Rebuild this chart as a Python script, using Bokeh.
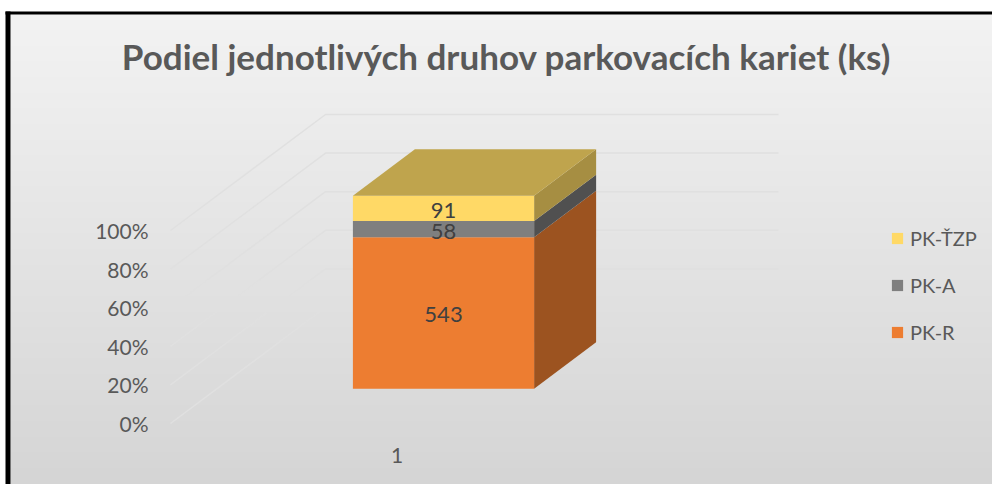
import numpy as np
from bokeh.plotting import figure
from bokeh.models import LinearAxis, FixedTicker, Legend, LegendItem, Label, Range1d
from bokeh.core.properties import value
from bokeh.embed import file_html
from bokeh.resources import INLINE

# ---------------- data ----------------
categories = [1]
category_labels = ["1"]
series_names = ["PK-R", "PK-A", "PK-ŤZP"]
pk_r = [543]
pk_a = [58]
pk_tzp = [91]
y_ticks = [0, 20, 40, 60, 80, 100]
y_tick_labels = ["0%", "20%", "40%", "60%", "80%", "100%"]
title_text = "Podiel jednotlivých druhov parkovacích kariet (ks)"

# ---------------- layout / style ----------------
W, H = 992, 484
X0_PX = 170.0      # screen x of the front-left floor corner
X_SCALE = 453.0    # px per category unit
Y0_PX = 423.0      # screen y (from top) of 0 % at the front
Y_SCALE = 1.93     # px per percent
DEPTH_DX_PX = 155.0
DEPTH_DY_PX = 116.0
BAR_HALF = 0.2
Z0, Z1 = 0.3, 0.7

x_start = 0.5 - X0_PX / X_SCALE
x_end = x_start + W / X_SCALE
y_start = -(H - Y0_PX) / Y_SCALE
y_end = y_start + H / Y_SCALE


def sx(px):
    return x_start + px / X_SCALE


def sy(py):
    return y_end - py / Y_SCALE


DZX = DEPTH_DX_PX / X_SCALE
DZY = DEPTH_DY_PX / Y_SCALE

front_colors = ["#ED7D31", "#7F7F7F", "#FFD966"]
side_colors = ["#9C5320", "#505050", "#A68E42"]
top_color = "#BFA44D"
text_gray = "#595959"
FONT = "Lato"

p = figure(width=W, height=H, output_backend="svg", toolbar_location=None,
           x_range=Range1d(x_start, x_end), y_range=Range1d(y_start, y_end),
           x_axis_location=None, y_axis_location=None)
p.min_border = 0
p.min_border_left = 0
p.min_border_right = 0
p.min_border_top = 0
p.min_border_bottom = 0
p.outline_line_color = None
p.background_fill_color = "white"
p.border_fill_color = "white"
p.xgrid.visible = False
p.ygrid.visible = False

# background gradient of the chart area
rows = int(H - 14)
frac = np.linspace(0.0, 1.0, rows)[:, None]
c_bot = np.array([213, 213, 213])
c_top = np.array([243, 243, 243])
cols = (c_bot + (c_top - c_bot) * frac).astype(np.uint8)
img = np.empty((rows, 1), dtype=np.uint32)
view = img.view(dtype=np.uint8).reshape((rows, 1, 4))
view[:, 0, 0:3] = cols
view[:, 0, 3] = 255
p.image_rgba(image=[img], x=sx(10), y=sy(H), dw=(W - 10) / X_SCALE, dh=(H - 14) / Y_SCALE)

# frame border (black)
p.quad(left=[sx(5)], right=[sx(W)], bottom=[sy(14)], top=[sy(11)], color="black", line_color=None)
p.quad(left=[sx(5)], right=[sx(10)], bottom=[sy(H)], top=[sy(11)], color="black", line_color=None)

# 3D gridlines: left wall diagonals + back wall horizontals
cat_lo = min(categories) - 0.5
cat_hi = max(categories) + 0.5
gxs = [[cat_lo, cat_lo + DZX, cat_hi + DZX] for t in y_ticks]
gys = [[t, t + DZY, t + DZY] for t in y_ticks]
p.multi_line(xs=gxs, ys=gys, line_color="#E0E0E0", line_width=1.5)

# stacked 100% 3D columns
series = [pk_r, pk_a, pk_tzp]
totals = [sum(s[i] for s in series) for i in range(len(categories))]
front_renderers = []
cum = [0.0] * len(categories)
for si, s in enumerate(series):
    bottoms = [cum[i] for i in range(len(categories))]
    tops = [cum[i] + 100.0 * s[i] / totals[i] for i in range(len(categories))]
    cum = tops
    # side face
    sxs, sys_ = [], []
    for i, c in enumerate(categories):
        xr = c + BAR_HALF
        sxs.append([xr + Z0 * DZX, xr + Z1 * DZX, xr + Z1 * DZX, xr + Z0 * DZX])
        sys_.append([bottoms[i] + Z0 * DZY, bottoms[i] + Z1 * DZY, tops[i] + Z1 * DZY, tops[i] + Z0 * DZY])
    p.patches(xs=sxs, ys=sys_, fill_color=side_colors[si], line_color=None)
    # front face
    r = p.quad(left=[c - BAR_HALF + Z0 * DZX for c in categories],
               right=[c + BAR_HALF + Z0 * DZX for c in categories],
               bottom=[b + Z0 * DZY for b in bottoms],
               top=[t + Z0 * DZY for t in tops],
               fill_color=front_colors[si], line_color=None)
    front_renderers.append(r)
    # data labels
    p.text(x=[c + Z0 * DZX for c in categories],
           y=[(bottoms[i] + tops[i]) / 2 + Z0 * DZY for i in range(len(categories))],
           text=[str(v) for v in s], text_align="center", text_baseline="middle",
           y_offset=2,
           text_font=value(FONT), text_font_size="22px", text_color="#404040")

# top face
txs, tys = [], []
for i, c in enumerate(categories):
    xl, xr = c - BAR_HALF, c + BAR_HALF
    t = cum[i]
    txs.append([xl + Z0 * DZX, xr + Z0 * DZX, xr + Z1 * DZX, xl + Z1 * DZX])
    tys.append([t + Z0 * DZY, t + Z0 * DZY, t + Z1 * DZY, t + Z1 * DZY])
p.patches(xs=txs, ys=tys, fill_color=top_color, line_color=None)

# axes
yaxis = LinearAxis(fixed_location=cat_lo, ticker=FixedTicker(ticks=y_ticks),
                   major_label_overrides={t: l for t, l in zip(y_ticks, y_tick_labels)})
xaxis = LinearAxis(fixed_location=0, ticker=FixedTicker(ticks=categories),
                   major_label_overrides={c: l for c, l in zip(categories, category_labels)})
for ax, so in ((yaxis, 22), (xaxis, 24)):
    ax.axis_line_color = None
    ax.major_tick_line_color = None
    ax.minor_tick_line_color = None
    ax.major_tick_in = 0
    ax.major_tick_out = 0
    ax.major_label_text_font = FONT
    ax.major_label_text_font_size = "21px"
    ax.major_label_text_color = text_gray
    ax.major_label_standoff = so
p.add_layout(yaxis, "left")
p.add_layout(xaxis, "below")

# legend
legend = Legend(items=[LegendItem(label=series_names[i], renderers=[front_renderers[i]]) for i in (2, 1, 0)],
                location=(890, 140), orientation="vertical", padding=0, margin=0,
                spacing=23, glyph_width=14, glyph_height=14, label_height=22,
                label_standoff=6, label_text_font=FONT, label_text_font_size="20px",
                label_text_color=text_gray, border_line_color=None, background_fill_alpha=0)
p.add_layout(legend)

# title
p.add_layout(Label(x=sx(506), y=sy(55), text=title_text, text_align="center", text_baseline="middle",
                   text_font=FONT, text_font_style="bold", text_font_size="35px", text_color=text_gray))

open("out.html", "w").write(file_html(p, INLINE))
